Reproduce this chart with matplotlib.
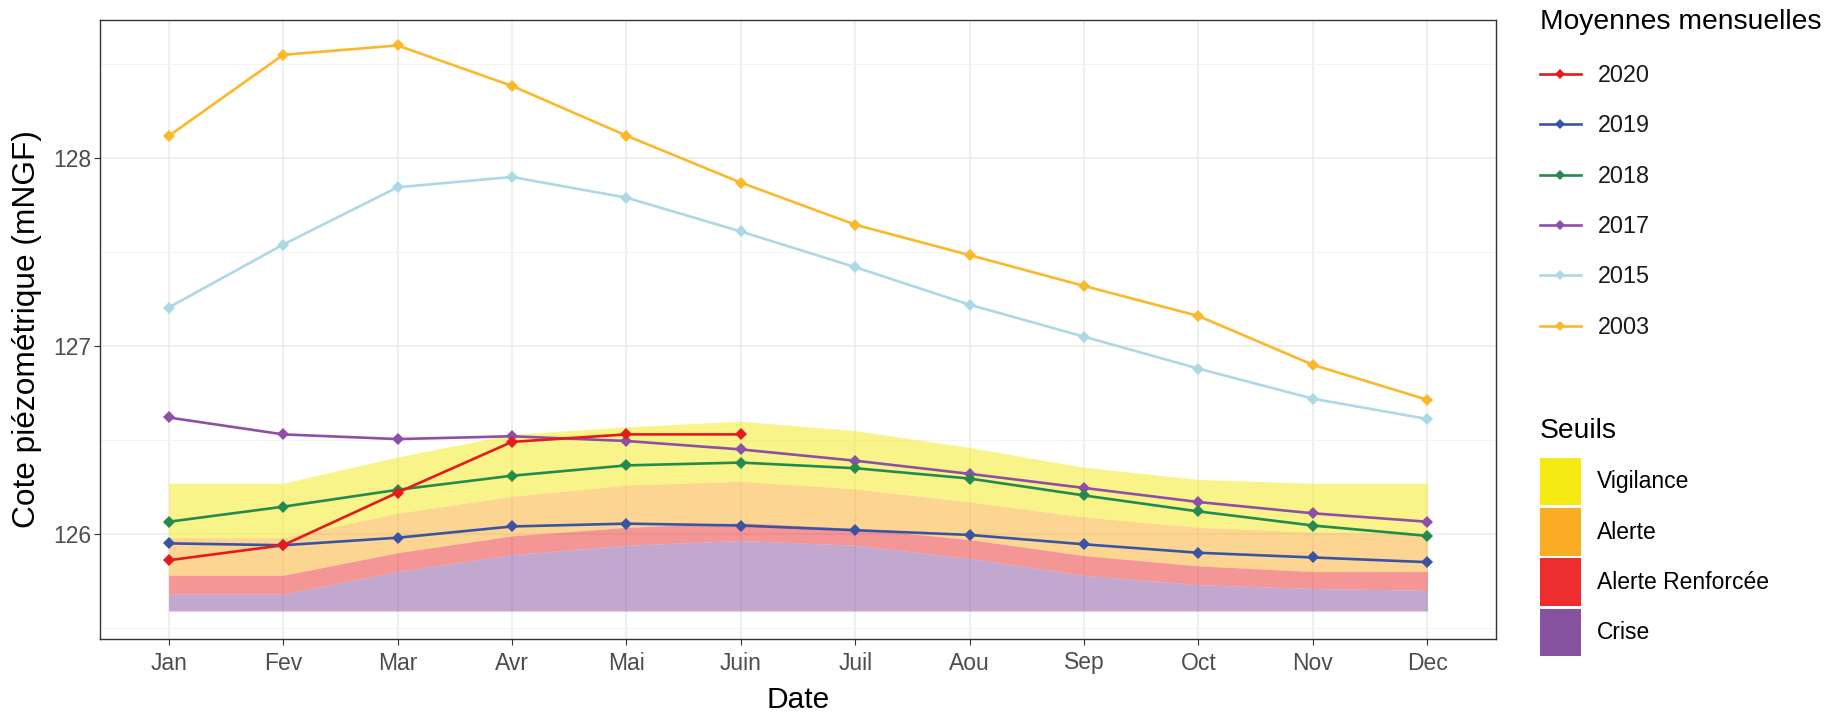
import matplotlib
matplotlib.use("Agg")
import matplotlib.pyplot as plt
from matplotlib.patches import Patch
import numpy as np

plt.rcParams['font.family'] = ['Liberation Sans', 'DejaVu Sans']

months = ['Jan', 'Fev', 'Mar', 'Avr', 'Mai', 'Juin', 'Juil', 'Aou', 'Sep', 'Oct', 'Nov', 'Dec']

y2020 = [125.86, 125.94, 126.22, 126.49, 126.53, 126.53]
y2019 = [125.95, 125.94, 125.98, 126.04, 126.055, 126.045, 126.02, 125.995, 125.945, 125.90, 125.875, 125.85]
y2018 = [126.065, 126.145, 126.235, 126.31, 126.365, 126.38, 126.35, 126.295, 126.205, 126.12, 126.045, 125.99]
y2017 = [126.62, 126.53, 126.505, 126.52, 126.495, 126.45, 126.39, 126.32, 126.245, 126.17, 126.11, 126.065]
y2015 = [127.205, 127.54, 127.845, 127.90, 127.79, 127.61, 127.42, 127.22, 127.05, 126.88, 126.72, 126.612]
y2003 = [128.118, 128.55, 128.60, 128.385, 128.12, 127.87, 127.646, 127.484, 127.32, 127.16, 126.90, 126.714]

# thresholds (upper limits of each zone)
vigilance = [126.27, 126.27, 126.41, 126.53, 126.57, 126.60, 126.55, 126.46, 126.355, 126.29, 126.27, 126.27]
alerte = [125.98, 125.98, 126.11, 126.20, 126.26, 126.28, 126.24, 126.17, 126.09, 126.035, 126.01, 126.00]
alerte_renf = [125.78, 125.78, 125.90, 125.99, 126.035, 126.06, 126.03, 125.97, 125.885, 125.83, 125.80, 125.80]
crise = [125.68, 125.68, 125.80, 125.89, 125.94, 125.965, 125.94, 125.87, 125.78, 125.73, 125.71, 125.70]
fond = [125.59] * 12

series = [("2020", y2020, "#E41A1C"),
          ("2019", y2019, "#3A53A4"),
          ("2018", y2018, "#238B4F"),
          ("2017", y2017, "#8E4FA8"),
          ("2015", y2015, "#ADD8E6"),
          ("2003", y2003, "#FBB829")]

zones = [("Vigilance", alerte, vigilance, "#F5EA14"),
         ("Alerte", alerte_renf, alerte, "#F9AC24"),
         ("Alerte Renforcée", crise, alerte_renf, "#ED2E2E"),
         ("Crise", fond, crise, "#8753A0")]

fig = plt.figure(figsize=(18.29, 7.14), dpi=100)
ax = fig.add_axes([100 / 1829, 1 - 639 / 714, (1496 - 100) / 1829, (639 - 20) / 714])

x = np.arange(1, 13)

for name, lo, hi, col in zones:
    ax.fill_between(x, lo, hi, color=col, alpha=0.5, linewidth=0, zorder=1)

handles = {}
for name, ys, col in reversed(series):
    xs = x[:len(ys)]
    ln, = ax.plot(xs, ys, color=col, lw=1.9, marker='D', markersize=6.2,
                  markeredgewidth=0, zorder=3)
    handles[name] = ln

# axis limits (ggplot-style expansion)
allv = np.concatenate([np.array(v, dtype=float) for _, v, _ in series] + [np.array(fond), np.array(vigilance)])
lo_v, hi_v = allv.min(), allv.max()
pad = 0.045 * (hi_v - lo_v)
ax.set_ylim(lo_v - pad * 1.1, hi_v + pad)
ax.set_xlim(0.4, 12.6)

ax.set_xticks(x)
ax.set_xticklabels(months)
ax.set_yticks([126, 127, 128])
ax.set_yticks([125.5, 126.5, 127.5, 128.5], minor=True)
ax.tick_params(axis='y', which='minor', length=0)
ax.set_xticks([], minor=True)

ax.grid(True, which='major', color='#EBEBEB', lw=1.1, zorder=0)
ax.grid(True, which='minor', axis='y', color='#F3F3F3', lw=0.6, zorder=0)
ax.set_axisbelow(True)

for s in ax.spines.values():
    s.set_color('#333333')
    s.set_linewidth(1.0)

ax.tick_params(axis='both', which='major', length=4, width=0.8, color='#333333',
               labelcolor='#4D4D4D', labelsize=16.5)
ax.tick_params(axis='x', pad=5)
ax.tick_params(axis='y', pad=2)

ax.set_xlabel("Date", fontsize=21.5, color='black')
ax.set_ylabel("Cote piézométrique (mNGF)", fontsize=22.8, color='black')
ax.xaxis.set_label_coords(0.5, -(700 - 639) / 619)
ax.xaxis.label.set_va('center')
ax.yaxis.set_label_coords(-(100 - 27) / 1396, 0.5)
ax.yaxis.label.set_va('center')

# legend 1 : years
order = ["2020", "2019", "2018", "2017", "2015", "2003"]
leg1 = fig.legend([handles[k] for k in order], order, loc='upper left',
                  bbox_to_anchor=(1540 / 1829, 1 - 9 / 714), frameon=False,
                  title="Moyennes mensuelles", title_fontsize=20.3, fontsize=16.8,
                  alignment='left', borderpad=0, handlelength=1.75, handletextpad=0.72,
                  labelspacing=1.17, borderaxespad=0)
for t in leg1.get_texts():
    t.set_color('#1A1A1A')
for h in leg1.legend_handles:
    h.set_markersize(5.5)
leg1._legend_box.sep = 21

patches = [Patch(facecolor=c, edgecolor='none', label=n) for n, _, _, c in zones]
leg2 = fig.legend(handles=patches, loc='upper left',
                  bbox_to_anchor=(1540 / 1829, 1 - 418 / 714), frameon=False,
                  title="Seuils", title_fontsize=20.3, fontsize=16.5,
                  alignment='left', borderpad=0, handlelength=1.78, handleheight=2.8,
                  handletextpad=0.72, labelspacing=0.13, borderaxespad=0)
leg2._legend_box.sep = 10

fig.savefig("out.png", dpi=100)
